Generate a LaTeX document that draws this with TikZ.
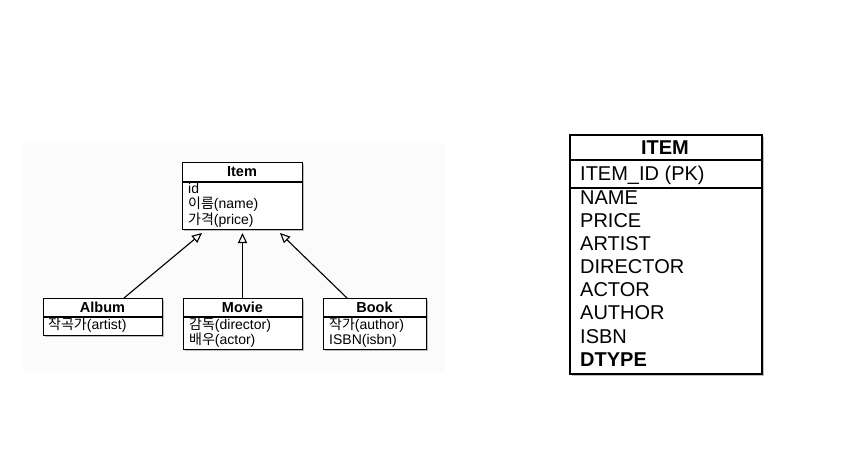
\documentclass[tikz,border=0pt]{standalone}
\usepackage{fontspec}
\setmainfont{Liberation Sans}
\newfontfamily\kofont{Noto Sans CJK KR}
\newcommand{\ko}[1]{{\kofont #1}}
\usetikzlibrary{arrows.meta,shadows}
\begin{document}
\begin{tikzpicture}[x=1pt,y=-1pt,
  boxshape/.style={draw=black,line width=1.3pt,fill=white,anchor=north west,inner sep=0pt,
    drop shadow={shadow xshift=1.8pt,shadow yshift=-1.8pt,opacity=0.45,fill=black!55}},
  sep/.style={line width=1.2pt},
  ttl/.style={font=\fontsize{14.5}{16}\selectfont\bfseries,inner sep=0pt},
  bod/.style={font=\fontsize{14}{16}\selectfont,inner sep=0pt,anchor=west,text height=10pt,text depth=3pt},
  big/.style={font=\fontsize{20}{23}\selectfont,inner sep=0pt,anchor=west,text height=14.5pt,text depth=4pt},
  bigttl/.style={font=\fontsize{20}{23}\selectfont\bfseries,inner sep=0pt},
  inh/.style={-{Triangle[open,length=10pt,width=9pt,line width=1.1pt]},line width=1.1pt}]
\useasboundingbox (0,0) rectangle (846,471);
\fill[black!1.5] (23,143) rectangle (445,373);
% Item
\node[boxshape,minimum width=120pt,minimum height=67pt] (item) at (182,162) {};
\draw[sep] (182,182) -- (302,182);
\node[ttl] (itemt) at (242,172) {Item};
\node[bod] (i1) at (188,189.5) {id};
\node[bod] (i2) at (188,205) {\ko{이름}(name)};
\node[bod] (i3) at (188,220.5) {\ko{가격}(price)};
% Album
\node[boxshape,minimum width=119pt,minimum height=37pt] (album) at (43,298) {};
\draw[sep] (43,317) -- (162,317);
\node[ttl] (albumt) at (102.5,307.5) {Album};
\node[bod] (a1) at (48,325.5) {\ko{작곡가}(artist)};
% Movie
\node[boxshape,minimum width=119pt,minimum height=51pt] (movie) at (183,298) {};
\draw[sep] (183,317) -- (302,317);
\node[ttl] (moviet) at (242.5,307.5) {Movie};
\node[bod] (m1) at (189,325.5) {\ko{감독}(director)};
\node[bod] (m2) at (189,341) {\ko{배우}(actor)};
% Book
\node[boxshape,minimum width=103pt,minimum height=51pt] (book) at (323,298) {};
\draw[sep] (323,317) -- (426,317);
\node[ttl] (bookt) at (374.5,307.5) {Book};
\node[bod] (b1) at (329,325.5) {\ko{작가}(author)};
\node[bod] (b2) at (329,341) {ISBN(isbn)};
% inheritance
\coordinate (pa) at (202,233);
\coordinate (pm) at (242.5,233);
\coordinate (pb) at (280,233);
\coordinate (ca) at (124,298);
\coordinate (cm) at (242.5,298);
\coordinate (cb) at (347,298);
\draw[inh] (ca) -- (pa);
\draw[inh] (cm) -- (pm);
\draw[inh] (cb) -- (pb);
% ITEM table
\node[boxshape,minimum width=192pt,minimum height=239pt,line width=1.6pt] (tbl) at (569,134) {};
\draw[line width=1.6pt] (569,160) -- (761,160);
\draw[line width=1.6pt] (569,188) -- (761,188);
\node[bigttl] (tt) at (665,147.5) {ITEM};
\node[big] (t0) at (580,175) {ITEM\_ID (PK)};
\node[big] (t1) at (580,199.5) {NAME};
\node[big] (t2) at (580,222.5) {PRICE};
\node[big] (t3) at (580,245.5) {ARTIST};
\node[big] (t4) at (580,268.5) {DIRECTOR};
\node[big] (t5) at (580,291.5) {ACTOR};
\node[big] (t6) at (580,314.5) {AUTHOR};
\node[big] (t7) at (580,338) {ISBN};
\node[big,font=\fontsize{20}{23}\selectfont\bfseries] (t8) at (580,361) {DTYPE};
\end{tikzpicture}
\end{document}
